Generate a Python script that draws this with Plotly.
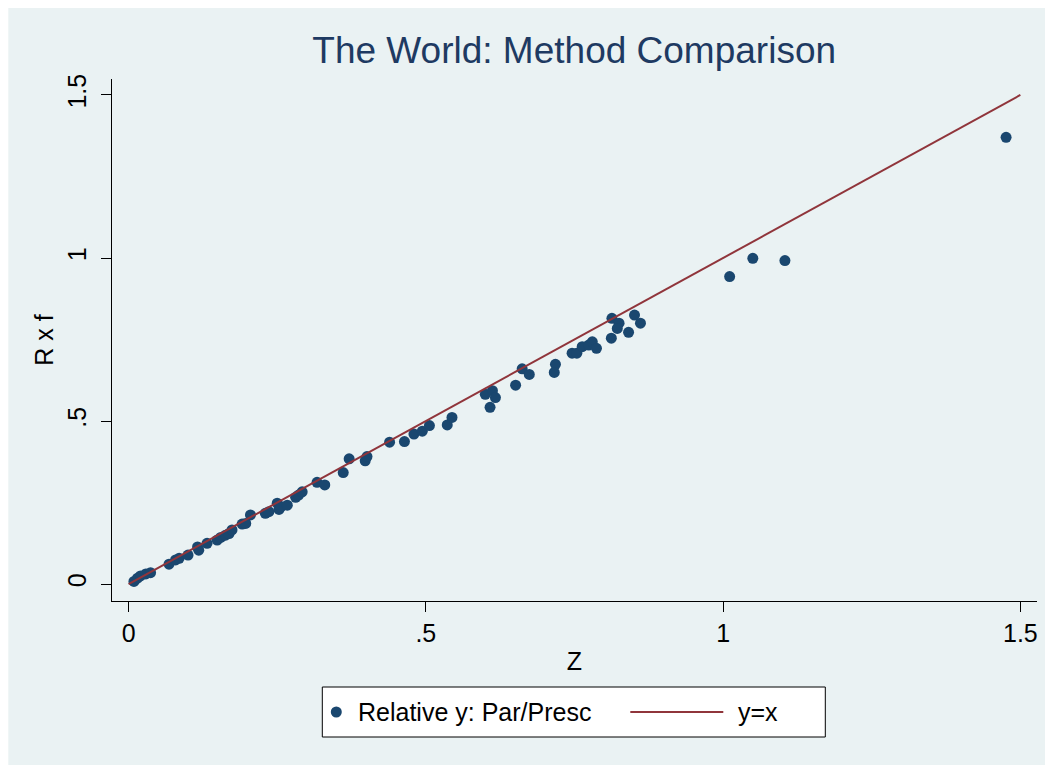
import plotly.graph_objects as go

# Data
z = [0.009, 0.015, 0.020, 0.029, 0.037, 0.068, 0.079, 0.085, 0.100, 0.116,
     0.118, 0.132, 0.149, 0.155, 0.163, 0.169, 0.174, 0.191, 0.197, 0.205,
     0.230, 0.236, 0.250, 0.253, 0.256, 0.267, 0.281, 0.286, 0.292, 0.317,
     0.330, 0.361, 0.371, 0.398, 0.401, 0.439, 0.464, 0.480, 0.494, 0.506,
     0.536, 0.544, 0.600, 0.612, 0.617, 0.608, 0.651, 0.662, 0.674, 0.718,
     0.716, 0.746, 0.754, 0.763, 0.774, 0.780, 0.787, 0.813, 0.825, 0.822,
     0.812, 0.841, 0.851, 0.861, 1.011, 1.050, 1.104, 1.476]
rxf = [0.008, 0.018, 0.025, 0.031, 0.035, 0.061, 0.074, 0.079, 0.089, 0.114,
       0.104, 0.125, 0.135, 0.143, 0.150, 0.155, 0.166, 0.184, 0.186, 0.212,
       0.217, 0.222, 0.248, 0.229, 0.237, 0.242, 0.266, 0.273, 0.283, 0.312,
       0.304, 0.342, 0.384, 0.378, 0.391, 0.435, 0.437, 0.460, 0.469, 0.486,
       0.488, 0.511, 0.582, 0.593, 0.572, 0.542, 0.610, 0.660, 0.643, 0.674,
       0.649, 0.708, 0.708, 0.728, 0.733, 0.743, 0.723, 0.815, 0.800, 0.784,
       0.754, 0.772, 0.825, 0.800, 0.943, 0.999, 0.992, 1.370]
line_x = [0, 1.5]
line_y = [0, 1.5]

tickvals = [0, 0.5, 1, 1.5]
ticktext = ["0", ".5", "1", "1.5"]
series_names = ["Relative y: Par/Presc", "y=x"]

navy = "#1a476f"
maroon = "#90353b"
bg = "#eaf2f3"
FONT = "Liberation Sans, Arial, Helvetica"

# page body has an 8px margin; work in figure pixels
W, H = 1045, 762
L, T = 103.7, 71
R = W - 1028.7
B = H - 593
pw, ph = W - L - R, H - T - B

def fx(p):
    return (p - L) / pw

def fy(p):
    return (H - B - p) / ph

fig = go.Figure()
fig.add_trace(go.Scatter(x=z, y=rxf, mode="markers", name=series_names[0],
                         marker=dict(color=navy, size=11, line=dict(width=0)),
                         showlegend=False))
fig.add_trace(go.Scatter(x=line_x, y=line_y, mode="lines", name=series_names[1],
                         line=dict(color=maroon, width=2), showlegend=False))

shapes = [
    # outer light panel
    dict(type="rect", xref="paper", yref="paper", layer="below",
         x0=fx(0), x1=fx(1038), y0=fy(757), y1=fy(0),
         fillcolor=bg, line=dict(width=0)),
    # legend box
    dict(type="rect", xref="paper", yref="paper", layer="above",
         x0=fx(314), x1=fx(817), y0=fy(729), y1=fy(679),
         fillcolor="white", line=dict(color="black", width=1)),
    # legend marker
    dict(type="circle", xref="paper", yref="paper", layer="above",
         x0=fx(328 - 5.5), x1=fx(328 + 5.5), y0=fy(704 + 5.5), y1=fy(704 - 5.5),
         fillcolor=navy, line=dict(width=0)),
    # legend line
    dict(type="line", xref="paper", yref="paper", layer="above",
         x0=fx(622), x1=fx(715), y0=fy(704), y1=fy(704),
         line=dict(color=maroon, width=2)),
]

annotations = [
    dict(text=series_names[0], xref="paper", yref="paper", x=fx(348), y=fy(704),
         xanchor="left", yanchor="middle", showarrow=False,
         font=dict(family=FONT, size=25, color="black")),
    dict(text=series_names[1], xref="paper", yref="paper", x=fx(728), y=fy(704),
         xanchor="left", yanchor="middle", showarrow=False,
         font=dict(family=FONT, size=25, color="black")),
]

axis_common = dict(tickvals=tickvals, ticktext=ticktext, ticks="outside", ticklen=10,
                   tickwidth=1, tickcolor="black", showline=True, linecolor="black",
                   linewidth=1, zeroline=False, automargin=False,
                   tickfont=dict(family=FONT, size=25, color="black"))

fig.update_layout(
    width=W, height=H,
    margin=dict(l=L, r=R, t=T, b=B, autoexpand=False),
    paper_bgcolor="white",
    plot_bgcolor="white",
    title=dict(text="The World: Method Comparison", x=(L + pw / 2) / W, xanchor="center",
               y=1 - 42 / H, yanchor="middle",
               font=dict(family=FONT, size=37, color="#1e3a62")),
    xaxis=dict(range=[-0.0279, 1.528], showgrid=False,
               title=dict(text="Z", font=dict(family=FONT, size=25, color="black"),
                          standoff=6),
               **axis_common),
    yaxis=dict(range=[-0.052, 1.549], showgrid=True, gridcolor=bg, gridwidth=2,
               tickangle=-90, ticklabelstandoff=5,
               title=dict(text="R x f", font=dict(family=FONT, size=25, color="black"),
                          standoff=2),
               **axis_common),
    shapes=shapes,
    annotations=annotations,
    showlegend=False,
)

fig.write_html("out.html")
